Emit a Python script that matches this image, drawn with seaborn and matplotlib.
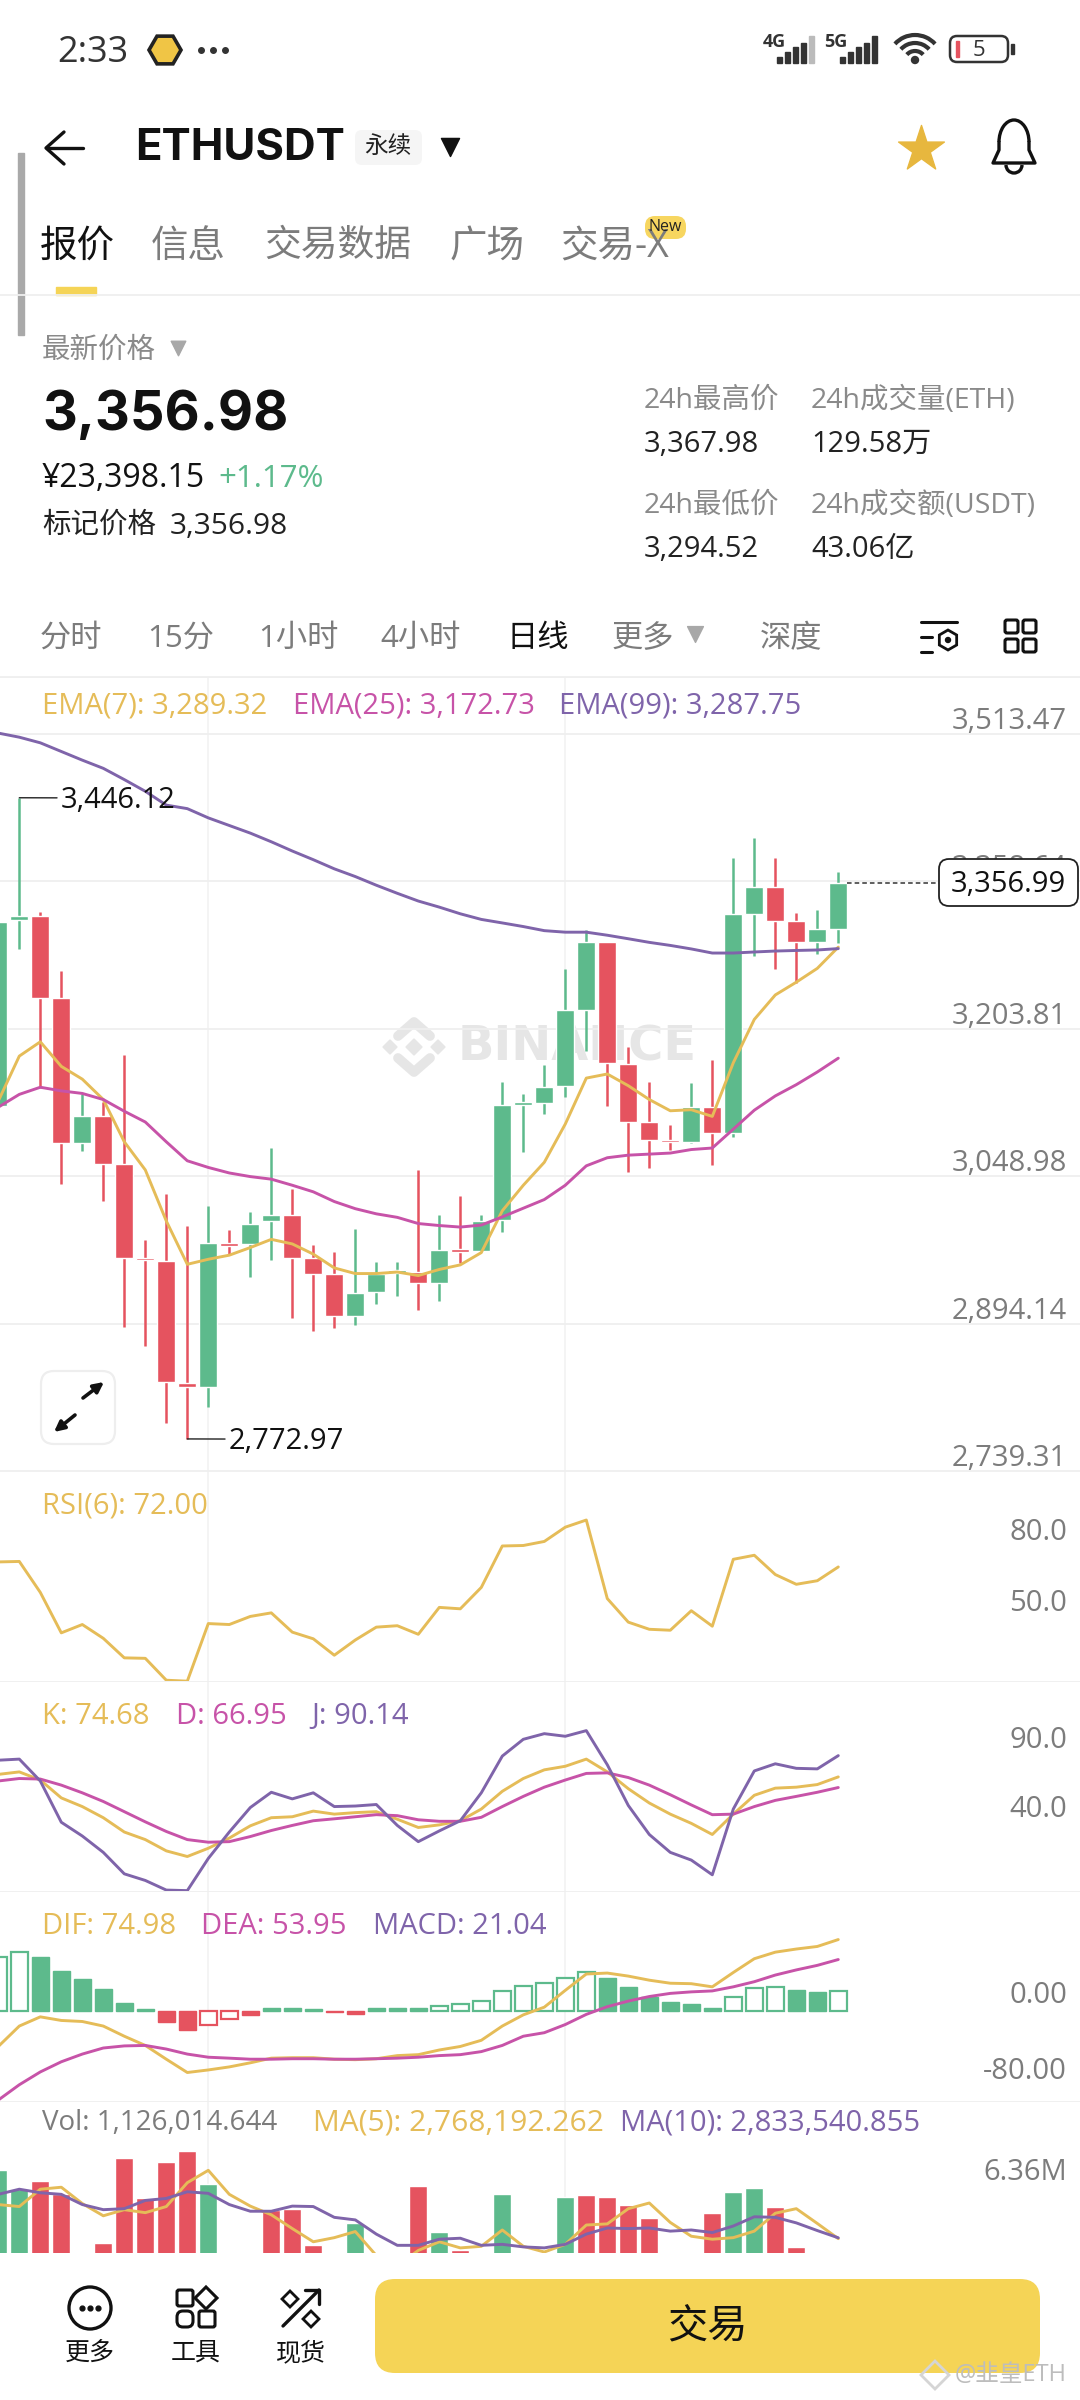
import numpy as np
import pandas as pd
import seaborn as sns
import matplotlib.pyplot as plt
from matplotlib.patches import FancyBboxPatch, Rectangle, Circle, RegularPolygon, Arc

# K线数据 (从截图读取), 第一根只露出一半
days = list(range(-1, 40))
opens = [3122.3, 3317.9, 3322.2, 3235.4, 3083.8, 3112.2, 3061.3, 2962.7, 2960.0, 2831.4, 2827.7, 2978.2, 2977.2, 3001.3,
         3007.7, 2962.7, 2946.1, 2902.2, 2926.8, 2947.7, 2948.2, 2936.4, 2971.8, 2970.7, 3002.9, 3124.0, 3125.6, 3143.2,
         3223.6, 3294.3, 3166.8, 3105.2, 3086.5, 3084.9, 3121.8, 3094.0, 3323.8, 3352.7, 3316.3, 3294.3, 3308.8]
closes = [3315.8, 3321.7, 3235.9, 3083.8, 3112.2, 3061.8, 2963.2, 2960.6, 2832.5, 2827.7, 2978.2, 2975.5, 2998.7, 3007.7,
          2963.2, 2946.6, 2902.2, 2926.3, 2946.1, 2949.8, 2936.4, 2971.8, 2969.7, 3001.8, 3123.4, 3126.1, 3142.7, 3223.1,
          3294.3, 3167.4, 3105.7, 3087.0, 3084.3, 3121.8, 3094.0, 3323.8, 3352.7, 3316.8, 3294.3, 3308.3, 3356.99]
highs = [3316.0, 3446.12, 3325.9, 3264.3, 3134.7, 3127.2, 3175.9, 2981.4, 3029.7, 2996.4, 3017.9, 2992.2, 3011.4, 3077.9,
         3035.0, 2976.1, 2969.7, 2993.8, 2958.9, 2958.9, 3055.4, 3008.2, 3027.5, 3008.2, 3148.1, 3134.7, 3165.2, 3265.9,
         3307.2, 3294.3, 3184.0, 3147.5, 3102.5, 3146.5, 3170.6, 3383.3, 3403.6, 3382.7, 3324.9, 3328.1, 3367.7]
lows = [3114.3, 3287.4, 3141.1, 3040.9, 3075.2, 3023.2, 2890.9, 2870.5, 2790.2, 2772.97, 2806.3, 2967.0, 2942.9, 2961.1,
        2900.0, 2886.6, 2889.3, 2893.0, 2915.0, 2923.0, 2908.0, 2917.7, 2957.9, 2970.7, 2990.0, 3074.7, 3114.3, 3131.5,
        3180.2, 3122.9, 3052.7, 3057.0, 3076.8, 3083.2, 3060.8, 3090.2, 3279.9, 3265.9, 3252.0, 3282.5, 3293.8]

ema7 = [3127.7, 3174.9, 3189.9, 3164.1, 3150.7, 3129.3, 3084.9, 3055.4, 3001.8, 2956.3, 2961.6, 2965.9, 2973.9, 2982.5,
        2977.7, 2967.0, 2952.5, 2946.6, 2946.6, 2948.2, 2944.5, 2950.9, 2955.7, 2968.6, 3012.5, 3039.3, 3063.4, 3103.6,
        3151.8, 3156.1, 3143.8, 3129.3, 3117.5, 3118.6, 3111.6, 3167.9, 3213.4, 3239.1, 3252.5, 3267.0, 3289.32]
ema25 = [3121.3, 3134.7, 3142.2, 3138.4, 3135.7, 3129.3, 3117.0, 3105.7, 3084.9, 3065.0, 3058.0, 3052.2, 3048.4, 3045.7,
         3039.3, 3032.4, 3022.2, 3014.7, 3009.3, 3005.6, 2999.1, 2997.0, 2995.4, 2997.5, 3006.1, 3015.2, 3024.3, 3039.3,
         3059.7, 3068.2, 3070.9, 3072.0, 3073.1, 3076.8, 3078.4, 3098.2, 3118.1, 3133.1, 3144.9, 3158.2, 3172.73]
ema99 = [3514.0, 3509.7, 3503.8, 3494.7, 3485.6, 3477.0, 3465.2, 3452.9, 3438.4, 3434.7, 3425.0, 3417.0, 3409.0, 3399.9,
         3390.2, 3381.1, 3371.5, 3363.4, 3354.3, 3345.8, 3337.7, 3331.3, 3324.3, 3318.4, 3314.7, 3310.9, 3306.6, 3305.0,
         3305.0, 3301.8, 3298.1, 3294.3, 3291.1, 3287.4, 3283.1, 3283.1, 3284.2, 3285.2, 3285.8, 3286.3, 3287.75]
price_ticks = [3513.47, 3358.64, 3203.81, 3048.98, 2894.14, 2739.31]

rsi6 = [74.1, 74.3, 61.3, 44.3, 47.8, 42.0, 33.8, 33.6, 24.4, 24.0, 48.2, 47.8, 51.2, 52.7, 44.6, 41.8, 34.9, 41.3, 46.7,
        47.3, 43.7, 55.0, 54.4, 63.4, 80.8, 81.0, 82.7, 88.7, 91.7, 58.7, 48.8, 45.8, 45.4, 53.6, 47.1, 75.2, 76.9, 68.8,
        64.7, 66.2, 72.0]
k_line = [76.5, 78.3, 72.4, 59.4, 53.1, 45.0, 34.6, 29.1, 20.9, 16.8, 22.8, 30.2, 39.1, 45.0, 45.7, 49.8, 47.6, 48.7, 49.4,
          43.9, 37.9, 39.8, 42.8, 51.3, 64.2, 73.5, 79.8, 82.4, 87.6, 78.3, 66.1, 55.7, 47.6, 40.9, 32.8, 47.6, 61.3, 66.5,
          67.2, 69.1, 74.68]
d_line = [71.7, 73.5, 73.1, 68.7, 63.1, 56.8, 49.4, 42.0, 35.0, 29.1, 27.2, 27.6, 31.3, 35.7, 39.4, 42.8, 44.2, 45.7, 47.2,
          46.5, 43.5, 42.4, 42.4, 45.3, 53.1, 60.5, 67.2, 72.4, 77.2, 77.6, 74.2, 68.7, 61.7, 54.3, 47.2, 47.6, 53.1, 57.6,
          60.5, 63.5, 66.95]
j_line = [86.8, 87.6, 71.7, 41.7, 31.7, 19.8, 4.2, -0.6, -7.6, -8.0, 15.4, 34.6, 52.4, 63.5, 58.7, 63.1, 53.1, 53.5, 54.6,
          39.4, 27.6, 35.4, 42.8, 63.1, 89.8, 102.0, 106.1, 104.2, 108.3, 83.5, 53.9, 32.8, 19.8, 14.2, 3.5, 51.3, 79.0,
          84.2, 80.9, 80.5, 90.14]

dif = [-37.6, -16.1, -6.4, -10.2, -11.3, -16.1, -26.8, -36.5, -51.0, -65.0, -62.3, -59.1, -54.8, -49.9, -49.4, -49.4, -51.0,
       -51.5, -50.5, -47.2, -46.2, -41.3, -37.6, -31.1, -16.1, -4.3, 3.8, 21.5, 38.7, 39.7, 36.5, 32.2, 29.0, 28.5, 25.2,
       40.3, 54.8, 61.7, 65.0, 67.7, 74.98]
dea = [-94.0, -77.9, -64.4, -53.7, -45.6, -39.2, -37.0, -36.5, -40.3, -45.6, -48.9, -49.9, -51.0, -51.0, -50.5, -50.5, -51.0,
       -51.0, -50.5, -49.9, -48.9, -47.2, -46.2, -43.0, -36.5, -26.8, -23.1, -14.5, -3.8, 4.3, 10.2, 15.0, 18.3, 19.9, 20.9,
       25.2, 30.6, 37.6, 43.0, 47.8, 53.95]
macd_hist = [56.4, 61.7, 56.4, 41.9, 33.3, 22.6, 8.6, 2.1, -11.8, -19.9, -15.0, -9.1, -4.3, 2.7, 2.7, 2.1, -1.6, -3.8, 2.7, 2.7,
             2.7, 5.4, 7.5, 10.7, 20.4, 25.8, 29.0, 34.9, 41.3, 34.4, 25.2, 15.0, 9.7, 7.0, 3.2, 15.0, 23.6, 25.2, 22.0, 19.9,
             21.04]
# g/r 实心, G/R 空心
macd_kind = list("GGggggggrrRRrgggrrgggGGGGGGGGggggggGGGggG")

# 成交量 (百万)
vol = [7.58, 6.25, 6.86, 5.89, 1.5, 2.44, 8.47, 5.64, 8.15, 8.94, 6.61, 1.6, 1.4, 4.81, 4.85, 2.3, 1.5, 3.88, 1.3, 1.2, 6.5, 3.23,
       1.97, 1.4, 5.89, 1.2, 1.3, 5.71, 5.82, 5.71, 5.17, 4.2, 1.3, 1.5, 4.56, 6.07, 6.36, 4.99, 2.19, 1.6, 1.126]
vol_kind = list("ggrrgrrrrrgrgrrrrgggrgrgggggrrrrrrrggrrgg")
ma5 = [5.17, 5.03, 6.25, 6.39, 5.24, 4.38, 4.81, 4.6, 5.03, 6.71, 7.58, 5.89, 5.06, 4.45, 3.48, 2.55, 2.84, 3.27, 1.58, 0.86, 1.94,
       2.55, 2.12, 2.23, 3.38, 2.23, 1.83, 2.37, 3.73, 3.81, 4.88, 5.28, 3.91, 2.94, 2.73, 2.84, 3.3, 4.56, 4.88, 3.84, 2.77]
ma10 = [5.89, 6.25, 6.0, 5.89, 5.17, 4.81, 4.88, 5.46, 5.6, 6.07, 5.96, 5.17, 4.7, 4.7, 5.06, 5.03, 4.27, 4.09, 3.09, 2.3, 2.3, 2.73,
        2.8, 2.3, 2.37, 2.19, 2.12, 2.37, 3.09, 3.52, 3.48, 3.52, 3.3, 3.38, 3.2, 3.66, 4.31, 4.27, 3.88, 3.34, 2.83]

vgrid_days = [9, 26]

GREEN = "#5DBA8C"
RED = "#E5535F"
YELLOW = "#E5BC58"
PINK = "#C753A8"
PURPLE = "#7F64AA"
GRID = "#EFEFEF"
GREY = "#7C7C7C"
LGREY = "#8A8A8A"

sns.set_theme(style="white")
plt.rcParams["font.family"] = ["Open Sans", "Noto Sans CJK SC", "DejaVu Sans"]

W, H = 1080, 2400
fig = plt.figure(figsize=(W / 100, H / 100), dpi=100, facecolor="white")
PX = 0.72  # 1 px em pontos


def panel(top, bottom, ylim):
    ax = fig.add_axes([0, 1 - bottom / H, 1, (bottom - top) / H], zorder=2)
    ax.set_facecolor("none")
    ax.axis("off")
    ax.set_xlim((0 - 19.3) / 21, (W - 19.3) / 21)
    ax.set_ylim(*ylim)
    for d in vgrid_days:
        ax.axvline(d, color="#F3F3F3", lw=1.3, zorder=0)
    return ax


def lines(ax, series):
    long = pd.DataFrame({"day": days * len(series),
                         "value": sum([s[1] for s in series], []),
                         "name": sum([[s[0]] * len(days) for s in series], [])})
    sns.lineplot(data=long, x="day", y="value", hue="name", palette={s[0]: s[2] for s in series},
                 estimator=None, sort=False, legend=False, lw=2.1, ax=ax, zorder=4)
    ax.set_xlim((0 - 19.3) / 21, (W - 19.3) / 21)


def ytick(ax, val, label, off=8, color=GREY):
    ax.annotate(label, xy=(1, val), xycoords=ax.get_yaxis_transform(), xytext=(-13 * PX, off * PX),
                textcoords="offset points", ha="right", va="baseline", fontsize=21, color=color, zorder=5)


def extreme(ax, day, val, label):
    # 连线加文字, 41 px 右边
    ax.annotate(label, xy=(day, val), xytext=(41 * PX, -3 * PX), textcoords="offset points", fontsize=21,
                color="#111111", va="center", ha="left", zorder=6, annotation_clip=False,
                arrowprops=dict(arrowstyle="-", color="#222222", lw=1, shrinkA=0, shrinkB=0, relpos=(0, 0.6)))


# 背景水印
bg = fig.add_axes([0, 0, 1, 1], zorder=0)
bg.set_xlim(0, W)
bg.set_ylim(H, 0)
bg.axis("off")
bg.plot([398, 414, 430], [1036, 1022, 1036], color="#E6E6E6", lw=7)
bg.plot([398, 414, 430], [1058, 1072, 1058], color="#E6E6E6", lw=7)
for (cx, cy, r) in [(390, 1047, 7), (438, 1047, 7), (414, 1047, 8)]:
    bg.add_patch(RegularPolygon((cx, cy), 4, radius=r, color="#E6E6E6"))
bg.text(458, 1047, "BINANCE", fontsize=34.5, fontweight="bold", color="#E6E6E6", va="center", ha="left", family="DejaVu Sans")

# 主图
ax_k = panel(677, 1471, (2739.31, 3572.9))
for t in price_ticks:
    ax_k.axhline(t, color=GRID, lw=1.3, zorder=0)
colors = [GREEN if c >= o else RED for o, c in zip(opens, closes)]
ax_k.vlines(days, lows, highs, colors=colors, lw=1.8, zorder=2)
body_low = np.minimum(opens, closes)
body_h = np.maximum(np.abs(np.array(closes) - np.array(opens)), 2.8)
ax_k.bar(days, body_h, bottom=body_low, width=0.87, color=colors, zorder=3)
lines(ax_k, [("EMA7", ema7, YELLOW), ("EMA25", ema25, PINK), ("EMA99", ema99, PURPLE)])
for t in price_ticks:
    ytick(ax_k, t, f"{t:,.2f}", off=5)

# 最高 最低标注
extreme(ax_k, days[1], highs[1], "3,446.12")
extreme(ax_k, days[9], lows[9], "2,772.97")

# 现价虚线
ax_k.hlines(closes[-1], days[-1] + 0.43, (939 - 19.3) / 21, colors="#333333", linestyles=(0, (3, 2)), lw=1.1, zorder=3)

# RSI
ax_r = panel(1471, 1680.7, (24.2, 112.3))
lines(ax_r, [("RSI", rsi6, YELLOW)])
ytick(ax_r, 80, "80.0")
ytick(ax_r, 50, "50.0")

# KDJ
ax_j = panel(1680.7, 1890.9, (-8.2, 144.6))
lines(ax_j, [("K", k_line, YELLOW), ("D", d_line, PINK), ("J", j_line, PURPLE)])
ytick(ax_j, 90, "90.0")
ytick(ax_j, 40, "40.0")

# MACD
ax_m = panel(1890.9, 2101, (-95, 126.2))
df_m = pd.DataFrame({"day": days, "v": macd_hist, "kind": macd_kind})
sns.barplot(data=df_m, x="day", y="v", hue="kind", native_scale=True, dodge=False, width=0.83, errorbar=None, saturation=1,
            palette={"g": GREEN, "G": GREEN, "r": RED, "R": RED}, legend=False, ax=ax_m, zorder=2)
for p in ax_m.patches:
    idx = int(round(p.get_x() + p.get_width() / 2)) + 1
    kind = macd_kind[idx]
    p.set_edgecolor(GREEN if kind in "gG" else RED)
    p.set_linewidth(1.6 if kind in "GR" else 1.0)
    if kind in "GR":
        p.set_facecolor("white")
ax_m.axis("off")
ax_m.set_ylim(-95, 126.2)
lines(ax_m, [("DIF", dif, YELLOW), ("DEA", dea, PINK)])
ytick(ax_m, 0, "0.00")
ytick(ax_m, -80, "-80.00")

# 成交量
ax_v = panel(2101, 2253, (1.76, 12.46))
df_v = pd.DataFrame({"day": days, "v": vol, "kind": vol_kind})
sns.barplot(data=df_v, x="day", y="v", hue="kind", native_scale=True, dodge=False, width=0.87, errorbar=None, saturation=1,
            palette={"g": GREEN, "r": RED}, legend=False, ax=ax_v, zorder=2)
ax_v.axis("off")
ax_v.set_ylim(1.76, 12.46)
lines(ax_v, [("MA5", ma5, YELLOW), ("MA10", ma10, PURPLE)])
ytick(ax_v, 6.36, "6.36M")

for a in (ax_k, ax_r, ax_j, ax_m, ax_v):
    a.axhline(a.get_ylim()[1], color=GRID, lw=1.3, zorder=0)

# 界面
ui = fig.add_axes([0, 0, 1, 1], zorder=5)
ui.set_facecolor("none")
ui.set_xlim(0, W)
ui.set_ylim(H, 0)
ui.axis("off")


def txt(x, y, s, size=21, color="#111111", ha="left", weight="normal", **kw):
    # 中文字体让 va=center 偏高, 补一点
    ui.text(x, y + size * 0.3, s, fontsize=size, color=color, ha=ha, va="center", fontweight=weight, **kw)


def rbox(x0, y0, x1, y1, r, **kw):
    ui.add_patch(FancyBboxPatch((x0 + r, y0 + r), x1 - x0 - 2 * r, y1 - y0 - 2 * r, boxstyle=f"round,pad={r}", **kw))


# 状态栏
txt(57, 45, "2:33", size=26, color="#333333")
ui.add_patch(RegularPolygon((165, 50), 6, radius=16, orientation=np.pi / 6, facecolor="#F0C545", edgecolor="#222222", lw=2.6))
ui.scatter([201, 213, 225], [50, 50, 50], s=16, color="#333333")
txt(774, 38, "4G", size=13, color="#333333", ha="center", weight="bold")
txt(836, 38, "5G", size=13, color="#333333", ha="center", weight="bold")
for x0, col_last in [(777, "#BBBBBB"), (840, "#333333")]:
    for n, hgt in enumerate([6, 11, 16, 20, 27]):
        ui.add_patch(Rectangle((x0 + n * 8, 63 - hgt), 5, hgt, color=col_last if n == 4 else "#333333"))
for r in (6, 14, 22):
    ui.add_patch(Arc((915, 62), 2 * r + 10, 2 * r + 10, theta1=222, theta2=318, color="#333333", lw=3))
ui.add_patch(Circle((915, 60), 3.5, color="#333333"))
rbox(950, 36, 1008, 62, 7, facecolor="white", edgecolor="#333333", lw=1.8)
ui.add_patch(Rectangle((956, 41), 2.5, 16, color="#E5535F"))
txt(979, 46, "5", size=16, color="#333333", ha="center")
ui.add_patch(Rectangle((1011, 44), 3, 10, color="#333333"))

# 标题栏
ui.plot([47, 83], [148, 148], color="#111111", lw=2.4)
ui.plot([64, 46, 64], [132, 148, 164], color="#111111", lw=2.4)
txt(135, 139, "ETHUSDT", size=31.5, weight="bold", color="#111111", family=["Inter", "DejaVu Sans"])
rbox(355, 130, 422, 165, 7, facecolor="#F5F5F5", edgecolor="none")
txt(388, 142, "永续", size=17, ha="center", color="#222222")
ui.scatter([450], [147], marker="v", s=170, color="#111111")
ui.scatter([921], [149], marker="*", s=1200, color="#E7B73E")
ui.add_patch(Arc((1014, 142), 30, 44, theta1=180, theta2=360, color="#111111", lw=2.4))
ui.plot([999, 999, 993, 1035, 1029, 1029], [142, 150, 163, 163, 150, 142], color="#111111", lw=2.4)
ui.add_patch(Arc((1014, 165), 16, 16, theta1=0, theta2=180, color="#111111", lw=2.4))

# 标签
ui.add_patch(Rectangle((18, 153), 6, 182, color="#A9A9A9"))
txt(40, 239, "报价", size=27, color="#111111", weight="medium")
txt(151, 239, "信息", size=27, color=GREY)
txt(264, 239, "交易数据", size=26.5, color=GREY)
txt(450, 239, "广场", size=27, color=GREY)
txt(560, 239, "交易-X", size=27, color=GREY)
rbox(645, 216, 686, 239, 10, facecolor="#F7D660", edgecolor="none")
txt(665, 224, "New", size=11.5, color="#222222", ha="center")
ui.add_patch(Rectangle((56, 287), 40, 8, color="#F5D456"))
ui.plot([0, W], [295, 295], color=GRID, lw=1.3)

# 价格区
txt(42, 345, "最新价格", size=20.5, color=LGREY)
ui.scatter([178], [348], marker="v", s=110, color="#A8A8A8")
txt(42, 404, "3,356.98", size=39, weight="bold", color="#111111", family=["Inter", "DejaVu Sans"])
txt(42, 472, "¥23,398.15", size=23, color="#111111")
txt(218, 472, "+1.17%", size=22.5, color=GREEN)
txt(42, 520, "标记价格", size=20.5, color="#222222")
txt(170, 520, "3,356.98", size=21.5, color="#222222")
txt(644, 395, "24h最高价", size=20.5, color=LGREY)
txt(811, 395, "24h成交量(ETH)", size=20.5, color=LGREY)
txt(644, 438, "3,367.98", color="#222222")
txt(811, 438, "129.58万", color="#222222")
txt(644, 500, "24h最低价", size=20.5, color=LGREY)
txt(811, 500, "24h成交额(USDT)", size=20.5, color=LGREY)
txt(644, 543, "3,294.52", color="#222222")
txt(811, 543, "43.06亿", color="#222222")

# 周期栏
for x, s, c in [(40, "分时", GREY), (147, "15分", GREY), (258, "1小时", GREY), (380, "4小时", GREY), (506, "日线", "#111111"),
                (612, "更多", GREY), (760, "深度", GREY)]:
    txt(x, 632, s, size=22.5, color=c)
ui.scatter([695], [634], marker="v", s=130, color="#A8A8A8")
for y, x1 in [(622, 957), (637, 932), (652, 932)]:
    ui.plot([921, x1], [y, y], color="#111111", lw=2.2)
ui.add_patch(RegularPolygon((948, 640), 6, radius=10, facecolor="white", edgecolor="#111111", lw=2))
ui.add_patch(Circle((948, 640), 2.5, color="#111111"))
for x, y in [(1005, 620), (1023, 620), (1005, 639), (1023, 639)]:
    rbox(x, y, x + 13, y + 13, 2, facecolor="white", edgecolor="#111111", lw=2.2)
ui.plot([0, W], [677, 677], color=GRID, lw=1.3)

# 指标图例
txt(42, 700, "EMA(7): 3,289.32", color=YELLOW)
txt(293, 700, "EMA(25): 3,172.73", color=PINK)
txt(559, 700, "EMA(99): 3,287.75", color=PURPLE)
txt(42, 1500, "RSI(6): 72.00", color=YELLOW)
txt(42, 1710, "K: 74.68", color=YELLOW)
txt(176, 1710, "D: 66.95", color=PINK)
txt(311, 1710, "J: 90.14", color=PURPLE)
txt(42, 1920, "DIF: 74.98", color=YELLOW)
txt(201, 1920, "DEA: 53.95", color=PINK)
txt(373, 1920, "MACD: 21.04", color=PURPLE)
txt(42, 2117, "Vol: 1,126,014.644", size=20, color=GREY)
txt(313, 2117, "MA(5): 2,768,192.262", size=21.5, color=YELLOW)
txt(620, 2117, "MA(10): 2,833,540.855", color=PURPLE)

# 现价框
rbox(939, 859, 1078, 906, 10, facecolor="white", edgecolor="#222222", lw=1.3)
txt(1066, 878, "3,356.99", ha="right", color="#111111")

# 放大按钮
rbox(41, 1371, 115, 1444, 13, facecolor="white", edgecolor="#EEEEEE", lw=1.6)
ui.annotate("", xy=(104, 1382), xytext=(83, 1398), arrowprops=dict(arrowstyle="-|>", color="#111111", lw=2.6, mutation_scale=15, shrinkA=0, shrinkB=0))
ui.annotate("", xy=(54, 1432), xytext=(75, 1415), arrowprops=dict(arrowstyle="-|>", color="#111111", lw=2.6, mutation_scale=15, shrinkA=0, shrinkB=0))

# 底部导航
ui.add_patch(Circle((90, 2308), 21, facecolor="white", edgecolor="#111111", lw=2.4))
ui.scatter([82, 90, 98], [2308] * 3, s=12, color="#111111")
rbox(177, 2290, 193, 2306, 2, facecolor="white", edgecolor="#111111", lw=2.2)
ui.add_patch(RegularPolygon((206, 2298), 4, radius=11, facecolor="white", edgecolor="#111111", lw=2.2))
rbox(177, 2311, 193, 2327, 6, facecolor="white", edgecolor="#111111", lw=2.2)
rbox(199, 2311, 215, 2327, 2, facecolor="white", edgecolor="#111111", lw=2.2)
ui.plot([283, 319], [2326, 2290], color="#111111", lw=2.4)
ui.plot([305, 319, 319], [2290, 2290, 2304], color="#111111", lw=2.4)
ui.add_patch(RegularPolygon((290, 2299), 4, radius=8, facecolor="white", edgecolor="#111111", lw=2))
ui.add_patch(RegularPolygon((311, 2319), 4, radius=8, facecolor="white", edgecolor="#111111", lw=2))
txt(90, 2348, "更多", size=18, ha="center")
txt(196, 2348, "工具", size=18, ha="center")
txt(301, 2348, "现货", size=18, ha="center")
rbox(375, 2279, 1040, 2373, 20, facecolor="#F5D456", edgecolor="none")
txt(707, 2320, "交易", size=29, ha="center", weight="medium")
ui.add_patch(RegularPolygon((935, 2375), 4, radius=14, facecolor="none", edgecolor="#D5D5D5", lw=2))
txt(955, 2370, "@韭皇ETH", size=17, color="#BDBDBD")

fig.savefig("out.png", dpi=100, facecolor="white")
